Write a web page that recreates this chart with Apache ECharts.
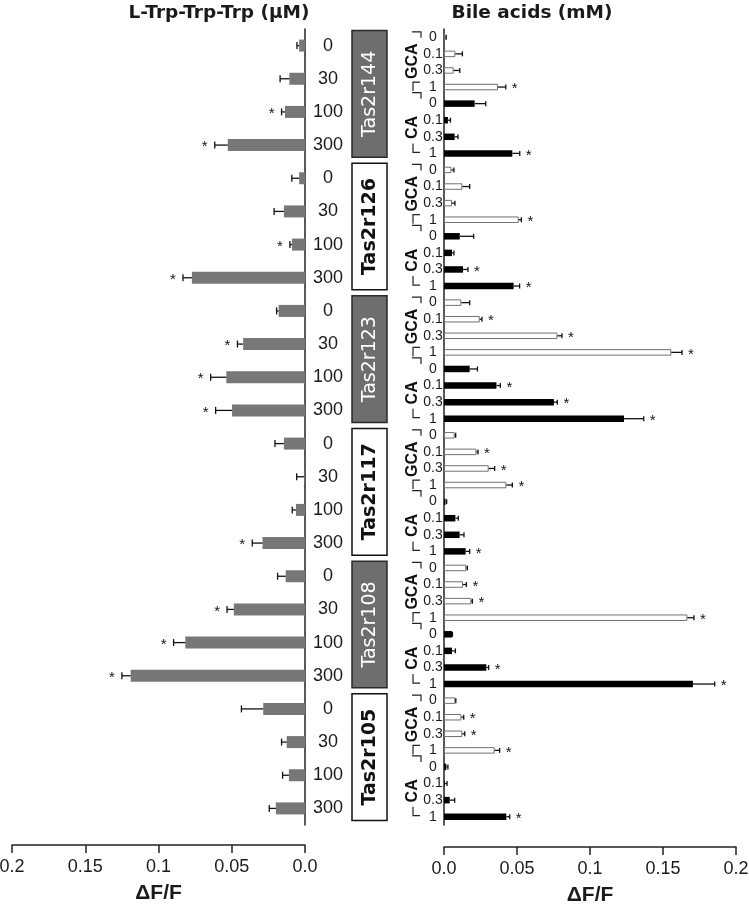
<!DOCTYPE html>
<html>
<head>
<meta charset="utf-8">
<script src="https://cdn.jsdelivr.net/npm/echarts@6/dist/echarts.min.js"></script>
<style>html,body{margin:0;padding:0;background:#fff}#main{width:749px;height:904px}</style>
</head>
<body>
<div id="main"></div>
<script>
// ---------- DATA ----------
const receptors = ['Tas2r144', 'Tas2r126', 'Tas2r123', 'Tas2r117', 'Tas2r108', 'Tas2r105'];
const receptorFilled = [true, false, true, false, true, false];
const trpDoses = ['0', '30', '100', '300'];
const trpMean = [0.004, 0.0107, 0.0137, 0.0527, 0.004, 0.0144, 0.0089, 0.0772, 0.018, 0.0422, 0.0537, 0.0498,
                 0.0144, 0.0005, 0.0062, 0.029, 0.0132, 0.0486, 0.0817, 0.119, 0.0285, 0.0125, 0.011, 0.0199];
const trpErr = [0.0015, 0.0063, 0.0023, 0.0089, 0.005, 0.0067, 0.0014, 0.0061, 0.0014, 0.0039, 0.0107, 0.0112,
                0.0061, 0.0052, 0.0025, 0.007, 0.0055, 0.0046, 0.008, 0.006, 0.0149, 0.0035, 0.0043, 0.0045];
const trpSig = [0, 0, 1, 1, 0, 0, 1, 1, 0, 1, 1, 1, 0, 0, 0, 1, 0, 1, 1, 1, 0, 0, 0, 0];

const acids = ['GCA', 'CA'];
const acidDoses = ['0', '0.1', '0.3', '1'];
const gcaMean = [0.001, 0.0078, 0.0066, 0.037, 0.0051, 0.0126, 0.0055, 0.0512, 0.0119, 0.0245, 0.0777, 0.1557,
                 0.0073, 0.0222, 0.0306, 0.0427, 0.0153, 0.013, 0.0187, 0.1667, 0.0078, 0.0119, 0.0126, 0.0347];
const gcaErr = [0.0005, 0.0048, 0.0042, 0.0053, 0.0017, 0.005, 0.002, 0.0018, 0.0057, 0.0015, 0.0031, 0.0073,
                0.0007, 0.0011, 0.0041, 0.0041, 0.0007, 0.0023, 0.0007, 0.0045, 0.0003, 0.0016, 0.0016, 0.0034];
const gcaSig = [0, 0, 0, 1, 0, 0, 0, 1, 0, 1, 1, 1, 0, 1, 1, 1, 0, 1, 1, 1, 0, 1, 1, 1];
const caMean = [0.021, 0.0027, 0.0073, 0.0468, 0.0108, 0.0055, 0.013, 0.0477, 0.0176, 0.0359, 0.0753, 0.1233,
                0.001, 0.0078, 0.0107, 0.0148, 0.0055, 0.0055, 0.029, 0.1705, 0.0016, 0.0005, 0.0039, 0.0427];
const caErr = [0.0076, 0.0017, 0.0023, 0.0051, 0.0095, 0.0013, 0.0034, 0.0041, 0.0053, 0.0027, 0.0023, 0.0135,
               0.0008, 0.002, 0.003, 0.0028, 0.0003, 0.0023, 0.0016, 0.0149, 0.0011, 0.0016, 0.0034, 0.0023];
const caSig = [0, 0, 0, 1, 0, 0, 1, 1, 0, 1, 1, 1, 0, 0, 0, 1, 0, 0, 1, 1, 0, 0, 0, 1];

const xTicks = [0, 0.05, 0.1, 0.15, 0.2];
const xTickLabels = ['0.0', '0.05', '0.1', '0.15', '0.2'];

// ---------- BUILD ----------
const leftCats = [];
receptors.forEach(r => trpDoses.forEach(d => leftCats.push(r + '|' + d)));
const rightCats = [];
const gcaData = [], caData = [], rightErr = [];
receptors.forEach((r, k) => {
  acids.forEach(a => acidDoses.forEach((d, j) => {
    const idx = rightCats.length;
    rightCats.push(r + '|' + a + '|' + d);
    const n = k * 4 + j;
    if (a === 'GCA') {
      gcaData.push(gcaMean[n]); caData.push('-');
      rightErr.push([gcaMean[n], gcaErr[n], idx, gcaSig[n]]);
    } else {
      caData.push(caMean[n]); gcaData.push('-');
      rightErr.push([caMean[n], caErr[n], idx, caSig[n]]);
    }
  }));
});
const leftErr = trpMean.map((v, i) => [v, trpErr[i], i, trpSig[i]]);

const TICK_FONT = '"Liberation Sans", Arial, Helvetica, sans-serif';
const fmtTick = v => { const i = xTicks.findIndex(t => Math.abs(t - v) < 1e-9); return i >= 0 ? xTickLabels[i] : ''; };

function errRender(dir, capH, starOff) {
  return function (params, api) {
    const v = api.value(0), e = api.value(1), i = api.value(2), s = api.value(3);
    const p0 = api.coord([v, i]);
    const p1 = api.coord([v + e, i]);
    const children = [
      { type: 'line', shape: { x1: p0[0], y1: p0[1], x2: p1[0], y2: p1[1] }, style: { stroke: '#111', lineWidth: 1.3 } },
      { type: 'line', shape: { x1: p1[0], y1: p1[1] - capH, x2: p1[0], y2: p1[1] + capH }, style: { stroke: '#111', lineWidth: 1.3 } }
    ];
    if (s) {
      children.push({ type: 'text', x: p1[0] + dir * starOff, y: p1[1] + 2,
        style: { text: '*', font: '15px ' + TICK_FONT, fill: '#111', align: 'center', verticalAlign: 'middle', textAlign: 'center', textVerticalAlign: 'middle' } });
    }
    return { type: 'group', children };
  };
}

const GRID_TOP = 29, GRID_H = 796;
const chart = echarts.init(document.getElementById('main'));
const axisLineStyle = { color: '#222', width: 1.5 };
const xAxisCommon = {
  type: 'value', min: 0, max: 0.2, interval: 0.05,
  axisLine: { show: true, lineStyle: axisLineStyle }, axisTick: { show: true, length: 8, lineStyle: axisLineStyle },
  splitLine: { show: false },
  axisLabel: { formatter: fmtTick, fontSize: 18, fontFamily: TICK_FONT, color: '#1a1a1a', margin: 13 },
  name: 'ΔF/F', nameLocation: 'middle', nameGap: 38,
  nameTextStyle: { fontSize: 21, fontWeight: 'bold', fontFamily: TICK_FONT, color: '#1a1a1a' }
};
chart.setOption({
  animation: false,
  grid: [
    { left: 12, top: GRID_TOP, width: 293, height: GRID_H, outerBoundsMode: 'none', containLabel: false },
    { left: 444, top: GRID_TOP, width: 292, height: GRID_H, outerBoundsMode: 'none', containLabel: false }
  ],
  xAxis: [
    Object.assign({}, xAxisCommon, { gridIndex: 0, inverse: true, offset: 20 }),
    Object.assign({}, xAxisCommon, { gridIndex: 1, offset: 22 })
  ],
  yAxis: [
    { gridIndex: 0, type: 'category', data: leftCats, inverse: true, position: 'right',
      axisLine: { show: true, lineStyle: axisLineStyle }, axisTick: { show: false },
      axisLabel: { interval: 0, formatter: v => v.split('|')[1], align: 'center', margin: 23,
        fontSize: 18, fontFamily: TICK_FONT, color: '#1a1a1a' } },
    { gridIndex: 1, type: 'category', data: rightCats, inverse: true, position: 'left',
      axisLine: { show: true, lineStyle: axisLineStyle }, axisTick: { show: false },
      axisLabel: { interval: 0, formatter: v => v.split('|')[2], align: 'center', margin: 11,
        fontSize: 14, fontFamily: TICK_FONT, color: '#1a1a1a' } }
  ],
  series: [
    { type: 'bar', xAxisIndex: 0, yAxisIndex: 0, data: trpMean, barWidth: 12,
      itemStyle: { color: '#777777' } },
    { type: 'custom', xAxisIndex: 0, yAxisIndex: 0, data: leftErr, encode: { x: [0, 1], y: 2 },
      renderItem: errRender(-1, 3.5, 10), z: 5, clip: false },
    { type: 'bar', name: 'GCA', xAxisIndex: 1, yAxisIndex: 1, data: gcaData, barWidth: 6.5, barGap: '-100%',
      itemStyle: { color: '#ffffff', borderColor: '#707070', borderWidth: 1 } },
    { type: 'bar', name: 'CA', xAxisIndex: 1, yAxisIndex: 1, data: caData, barWidth: 6.5, barGap: '-100%',
      itemStyle: { color: '#000000' } },
    { type: 'custom', xAxisIndex: 1, yAxisIndex: 1, data: rightErr, encode: { x: [0, 1], y: 2 },
      renderItem: errRender(1, 2.5, 9), z: 5, clip: false }
  ]
});

// ---------- DECORATIONS (positions derived from the axes) ----------
const yL = i => chart.convertToPixel({ gridIndex: 0 }, [0, i])[1];
const yR = i => chart.convertToPixel({ gridIndex: 1 }, [0, i])[1];
const halfL = GRID_H / leftCats.length / 2;
const graphics = [];
const txt = (x, y, text, font, fill, rot) => ({
  type: 'text', x, y, rotation: rot || 0,
  style: { text, font, fill, align: 'center', verticalAlign: 'middle', textAlign: 'center', textVerticalAlign: 'middle' }
});
graphics.push(txt(219, 13, 'L-Trp-Trp-Trp (μM)', 'bold 18.5px "DejaVu Sans", sans-serif', '#1a1a1a'));
graphics.push(txt(532, 13, 'Bile acids (mM)', 'bold 18.5px "DejaVu Sans", sans-serif', '#1a1a1a'));

receptors.forEach((r, k) => {
  const top = yL(k * 4) - halfL + 1.5;
  const bot = yL(k * 4 + 3) + halfL - 4.5;
  const filled = receptorFilled[k];
  graphics.push({ type: 'rect', shape: { x: 352, y: top, width: 35, height: bot - top },
    style: { fill: filled ? '#6e6e6e' : '#ffffff', stroke: filled ? '#2a2a2a' : '#111', lineWidth: 1.5 } });
  graphics.push(txt(370, (top + bot) / 2, r,
    (filled ? '' : 'bold ') + '19px "DejaVu Sans", sans-serif', filled ? '#ffffff' : '#111', Math.PI / 2));

  acids.forEach((a, g) => {
    const base = k * 8 + g * 4;
    const y0 = yR(base), y3 = yR(base + 3);
    graphics.push(txt(412.5, (y0 + y3) / 2 - 1, a, 'bold 16px ' + TICK_FONT, '#111', Math.PI / 2));
    const st = { stroke: '#222', lineWidth: 1.2, fill: null };
    const yt = g === 0 ? y0 - 5.5 : y0 - 11;
    graphics.push({ type: 'polyline', shape: { points: [[412, yt], [421, yt], [421, yt + 6]] }, style: st });
    if (g === 0) {
      graphics.push({ type: 'polyline', shape: { points: [[420, y3 - 5], [413, y3 - 5], [413, y3 + 4]] }, style: st });
    } else {
      graphics.push({ type: 'polyline', shape: { points: [[413, y3 - 10], [413, y3 - 1], [420, y3 - 1]] }, style: st });
    }
  });
});
chart.setOption({ graphic: graphics });
</script>
</body>
</html>
